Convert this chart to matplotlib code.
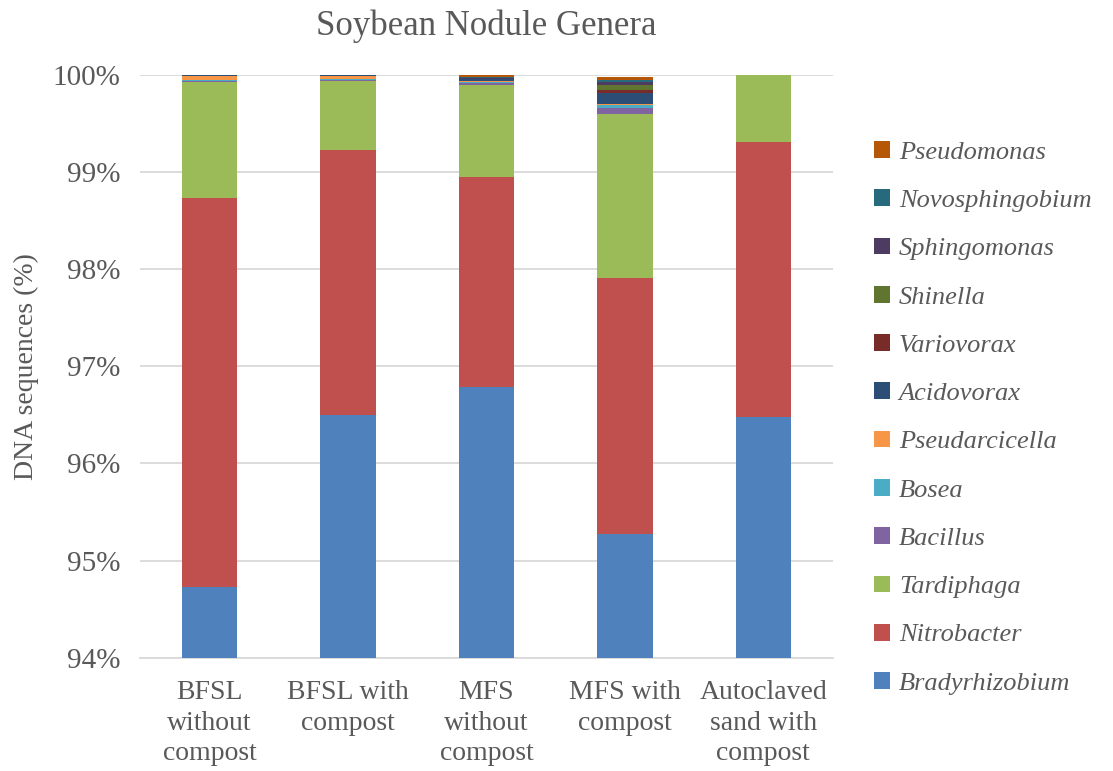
import numpy as np
import matplotlib.pyplot as plt

plt.rcParams['font.family'] = ['Liberation Serif', 'DejaVu Serif']

samples = ['BFSL\nwithout\ncompost', 'BFSL with\ncompost', 'MFS\nwithout\ncompost',
           'MFS with\ncompost', 'Autoclaved\nsand with\ncompost']

# genera stacked bottom to top, relative abundance (%)
genera = ['Bradyrhizobium', 'Nitrobacter', 'Tardiphaga', 'Bacillus', 'Bosea',
          'Pseudarcicella', 'Acidovorax', 'Variovorax', 'Shinella',
          'Sphingomonas', 'Novosphingobium', 'Pseudomonas']

bradyrhizobium = [94.73, 96.50, 96.79, 95.27, 96.48]
nitrobacter = [4.00, 2.73, 2.16, 2.64, 2.83]
tardiphaga = [1.20, 0.71, 0.94, 1.69, 0.69]
bacillus = [0.010, 0.010, 0.030, 0.060, 0.0]
bosea = [0.003, 0.003, 0.010, 0.030, 0.0]
pseudarcicella = [0.045, 0.030, 0.002, 0.008, 0.0]
acidovorax = [0.010, 0.010, 0.020, 0.115, 0.0]
variovorax = [0.0, 0.0, 0.003, 0.035, 0.0]
shinella = [0.0, 0.0, 0.005, 0.045, 0.0]
sphingomonas = [0.0, 0.005, 0.010, 0.035, 0.0]
novosphingobium = [0.002, 0.002, 0.010, 0.015, 0.0]
pseudomonas = [0.0, 0.0, 0.020, 0.030, 0.0]

colors = ['#4F81BD', '#C0504D', '#9BBB59', '#8064A2', '#4BACC6', '#F79646',
          '#2C4D75', '#772C2A', '#5F7530', '#4D3B62', '#276A7C', '#B65708']

series = [bradyrhizobium, nitrobacter, tardiphaga, bacillus, bosea, pseudarcicella,
          acidovorax, variovorax, shinella, sphingomonas, novosphingobium, pseudomonas]

fig = plt.figure(figsize=(11.13, 7.71), dpi=100)
ax = fig.add_axes([0.126, 0.147, 0.622, 0.756])

x = np.arange(len(samples))
bottom = np.zeros(len(samples))
handles = []
for name, vals, c in zip(genera, series, colors):
    vals = np.array(vals)
    h = ax.bar(x, vals, 0.4, bottom=bottom, color=c, label=name, zorder=3)
    handles.append(h)
    bottom += vals

ax.set_ylim(94, 100)
ax.set_xlim(-0.5, len(samples) - 0.5)
ax.set_yticks(np.arange(94, 101, 1))
ax.set_yticklabels([f'{v}%' for v in range(94, 101)])
ax.set_xticks(x)
ax.set_xticklabels(samples, linespacing=1.3)
ax.yaxis.grid(True, color='#D9D9D9', linewidth=1.3, zorder=0)
for s in ['top', 'right', 'left']:
    ax.spines[s].set_visible(False)
ax.spines['bottom'].set_color('#D9D9D9')
ax.spines['bottom'].set_linewidth(1.3)
ax.tick_params(axis='y', length=0, labelsize=21, colors='#595959', pad=14)
ax.tick_params(axis='x', length=0, labelsize=20, colors='#595959', pad=16)
ax.set_ylabel('DNA sequences (%)', fontsize=20, color='#595959', labelpad=10)
ax.set_title('Soybean Nodule Genera', fontsize=25, color='#595959', pad=29)

leg = fig.legend(handles[::-1], genera[::-1], loc='center left',
                 bbox_to_anchor=(0.785, 0.458), frameon=False,
                 prop={'style': 'italic', 'size': 19}, borderpad=0,
                 borderaxespad=0, handlelength=0.6, handleheight=0.6,
                 handletextpad=0.35, labelspacing=0.97)
for t in leg.get_texts():
    t.set_color('#595959')

fig.savefig('out.png', dpi=100)
